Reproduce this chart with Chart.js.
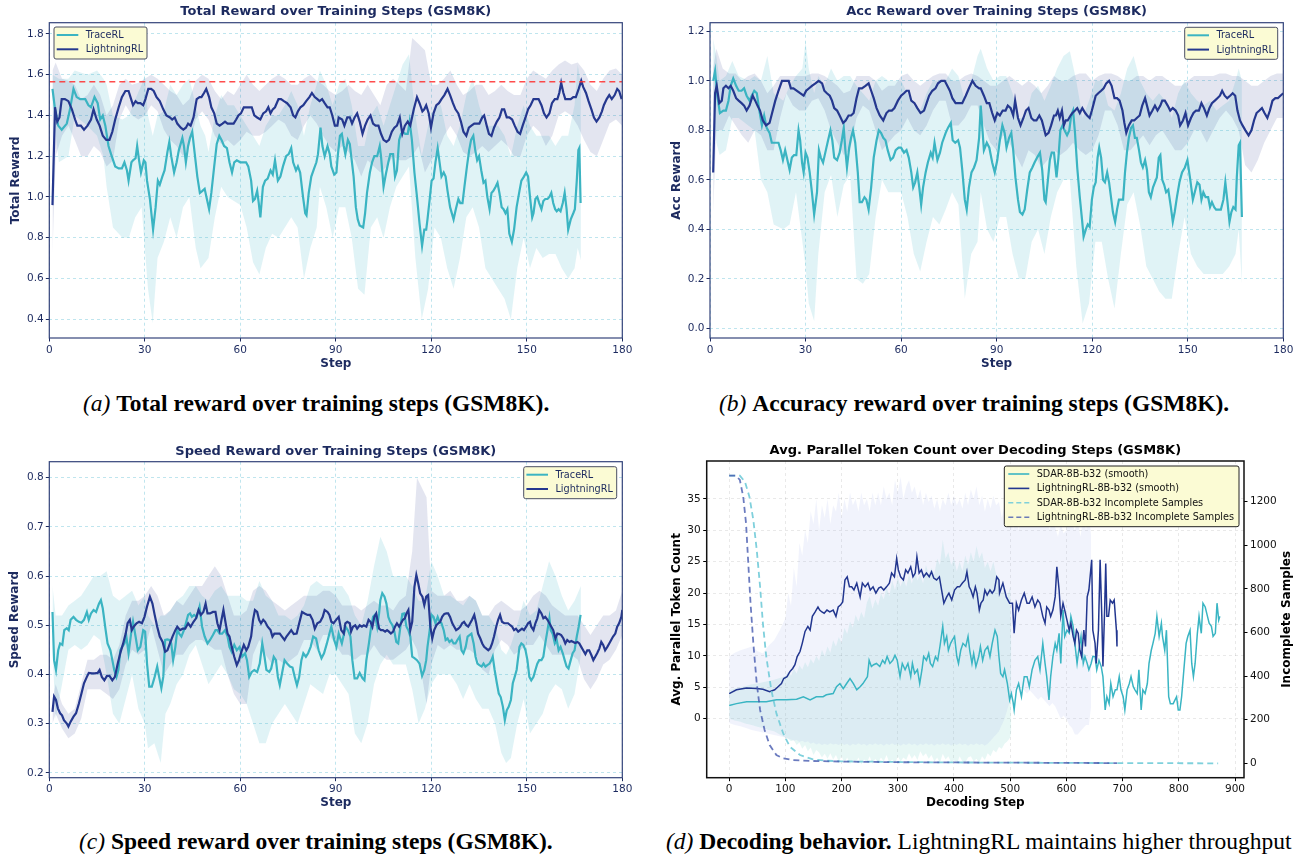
<!DOCTYPE html>
<html><head><meta charset="utf-8">
<script src="https://cdn.jsdelivr.net/npm/chart.js@4.4.1/dist/chart.umd.min.js"></script>
<style>
html,body{margin:0;padding:0;background:#fff;width:1302px;height:858px;overflow:hidden;position:relative;}
canvas{position:absolute;}
.cap{position:absolute;font-family:'Liberation Serif','Times New Roman',serif;font-size:23.5px;line-height:23.5px;color:#000;white-space:nowrap;}
.cap i{font-weight:normal;}
</style></head><body>
<canvas id="ca" width="640" height="374" style="left:0;top:0"></canvas>
<canvas id="cb" width="642" height="374" style="left:660px;top:0"></canvas>
<canvas id="cc" width="640" height="374" style="left:0;top:440px"></canvas>
<canvas id="cd" width="652" height="374" style="left:650px;top:440px"></canvas>
<div class="cap" style="left:83px;top:392px"><i>(a)</i> <b>Total reward over training steps (GSM8K).</b></div>
<div class="cap" style="left:719px;top:392px"><i>(b)</i> <b>Accuracy reward over training steps (GSM8K).</b></div>
<div class="cap" style="left:79px;top:830px"><i>(c)</i> <b>Speed reward over training steps (GSM8K).</b></div>
<div class="cap" style="left:666px;top:830px"><i>(d)</i> <b>Decoding behavior.</b> LightningRL maintains higher throughput</div>
<script>
// ---------------- DATA ----------------
const seriesNames = ['TraceRL', 'LightningRL'];
const decodeNames = ['SDAR-8B-b32 (smooth)', 'LightningRL-8B-b32 (smooth)', 'SDAR-8B-b32 Incomplete Samples', 'LightningRL-8B-b32 Incomplete Samples'];
const stepTicks = [0, 30, 60, 90, 120, 150, 180];
const totalTicks = [0.4, 0.6, 0.8, 1.0, 1.2, 1.4, 1.6, 1.8];
const accTicks = [0.0, 0.2, 0.4, 0.6, 0.8, 1.0, 1.2];
const speedTicks = [0.2, 0.3, 0.4, 0.5, 0.6, 0.7, 0.8];
const decodeTicks = [0, 100, 200, 300, 400, 500, 600, 700, 800, 900];
const tokenTicks = [0, 5, 10, 15, 20, 25, 30, 35];
const incompleteTicks = [0, 200, 400, 600, 800, 1000, 1200];
const totalReference = 1.565;

// [step, value]
const traceTotal = [[1,1.53],[1.8,1.43],[2.8,1.35],[3.9,1.33],[5.5,1.36],[6.5,1.43],[7.6,1.53],[8.6,1.49],[9.7,1.48],[11.3,1.48],[12.3,1.45],[13.1,1.44],[14.2,1.49],[15.2,1.46],[16,1.38],[16.8,1.4],[17.6,1.35],[18.6,1.25],[19.4,1.21],[20.7,1.15],[21.8,1.14],[22.8,1.14],[23.6,1.17],[24.4,1.13],[24.9,1.08],[25.8,1.17],[26.3,1.18],[27.1,1.19],[27.6,1.25],[28.2,1.18],[28.8,1.12],[29.7,1.18],[30.2,1.17],[30.7,1.08],[31.6,0.99],[32.6,0.84],[33.4,0.95],[34.1,1.08],[34.7,1.06],[35.5,1.1],[36.2,1.13],[37.1,1.22],[37.7,1.27],[38.3,1.2],[39.2,1.12],[40,1.17],[40.7,1.23],[41.8,1.29],[42.3,1.25],[42.9,1.17],[43.6,1.25],[44.2,1.29],[44.9,1.32],[45.7,1.21],[46.5,1.1],[47.3,1.02],[48.1,1.03],[48.8,1.04],[49.5,0.99],[50.2,0.94],[50.9,1.02],[51.8,1.15],[52.6,1.26],[53.4,1.3],[54.1,1.28],[54.9,1.25],[55.8,1.24],[56.6,1.17],[57.4,1.12],[58.1,1.17],[58.9,1.18],[60,1.17],[60.8,1.17],[61.8,1.17],[62.5,1.15],[63.4,1.08],[64,0.98],[64.6,0.99],[65.3,1.03],[65.8,0.97],[66.3,0.9],[67.1,1.05],[67.8,1.08],[68.6,1.09],[69.5,1.13],[70.2,1.11],[70.9,1.18],[71.8,1.08],[72.6,1.1],[73.4,1.15],[74.4,1.2],[75.2,1.21],[76,1.24],[76.6,1.17],[77.5,1.13],[78.1,1.15],[78.8,1.12],[79.7,1],[80.4,0.92],[80.8,0.91],[81.5,1.02],[82.3,1.1],[83.2,1.14],[83.9,1.17],[84.4,1.21],[85.2,1.34],[85.8,1.25],[86.5,1.2],[87.4,1.25],[88.1,1.21],[88.6,1.15],[89.5,1.11],[90.2,1.12],[90.6,1.2],[91.3,1.3],[91.9,1.31],[92.5,1.25],[93,1.21],[93.8,1.28],[94.4,1.26],[95,1.18],[95.6,1.1],[96.3,0.95],[96.9,0.89],[97.5,0.86],[98.6,0.85],[99.2,0.92],[99.8,1.02],[100.7,1.12],[101.4,1.17],[102.1,1.2],[103,1.2],[103.8,1.25],[104.2,1.2],[105,1.05],[105.7,1.11],[106.5,1.17],[107.1,1.21],[108,1.21],[108.6,1.1],[109.2,1.13],[109.9,1.28],[110.5,1.31],[111.1,1.32],[111.8,1.31],[112.6,1.31],[113.2,1.37],[113.9,1.28],[114.7,1.12],[115.5,1],[116.3,0.87],[117.1,0.76],[117.8,0.84],[118.4,0.84],[118.8,0.89],[119.5,0.99],[120.1,1.08],[120.7,1.09],[121.3,1.17],[122,1.24],[122.6,1.17],[123.2,1.1],[123.9,1.12],[124.5,1.1],[125.1,1.03],[125.9,0.95],[127,0.89],[127.7,0.94],[128.5,0.99],[129.1,0.97],[129.8,0.97],[130.4,1.05],[131.2,1.15],[131.9,1.23],[132.5,1.28],[133.2,1.3],[133.8,1.23],[134.4,1.18],[135,1.2],[135.7,1.13],[136.4,1.07],[137,1.08],[137.6,1],[138.3,0.94],[138.9,1.02],[139.5,1.03],[140.2,1.05],[140.8,1.07],[141.4,1.02],[142.1,0.95],[142.7,0.94],[143.3,0.92],[143.9,0.94],[144.5,0.82],[145.3,0.78],[146,0.84],[146.8,0.95],[147.7,1.03],[148.3,1.08],[149.1,1.1],[149.8,1.12],[150.4,1.1],[151,1],[151.7,0.9],[152.1,0.92],[152.7,0.99],[153.3,1],[153.9,0.97],[154.6,0.94],[155.2,0.98],[155.8,0.99],[156.5,0.99],[157.1,1],[157.7,1.02],[158.3,0.97],[158.9,0.94],[159.4,0.93],[160,0.94],[160.6,0.93],[161.3,0.97],[161.9,1.02],[162.5,0.94],[163,0.84],[163.8,0.89],[164.6,0.92],[165.1,0.94],[165.7,1.08],[166.2,1.23],[166.5,1.24],[166.9,0.97]];
const lightTotal = [[1,0.96],[1.8,1.44],[2.5,1.37],[3.2,1.39],[3.9,1.48],[4.9,1.48],[6,1.47],[7.1,1.43],[8.1,1.38],[8.8,1.35],[9.9,1.35],[10.9,1.33],[12,1.35],[13.1,1.38],[13.9,1.43],[14.9,1.38],[15.8,1.35],[16.8,1.3],[17.9,1.28],[18.9,1.28],[19.8,1.32],[20.7,1.38],[21.8,1.44],[22.8,1.49],[23.9,1.52],[24.9,1.52],[25.7,1.48],[26.3,1.45],[27.1,1.47],[27.8,1.46],[28.6,1.46],[29.5,1.45],[30.2,1.48],[31.1,1.53],[32,1.53],[32.8,1.52],[33.7,1.49],[34.7,1.47],[35.8,1.43],[36.8,1.4],[37.9,1.39],[38.6,1.38],[39.4,1.39],[40.2,1.36],[41.3,1.34],[42.1,1.33],[42.9,1.34],[43.6,1.36],[44.4,1.35],[45.3,1.39],[46.3,1.48],[47.2,1.49],[47.8,1.49],[48.6,1.51],[49.3,1.53],[50.2,1.49],[50.9,1.44],[51.8,1.41],[52.6,1.36],[53.5,1.35],[54.4,1.36],[55.2,1.37],[56,1.36],[57.1,1.36],[57.9,1.36],[58.7,1.38],[59.4,1.4],[60.2,1.41],[61.1,1.44],[61.9,1.44],[62.8,1.44],[63.6,1.44],[64.4,1.4],[65.3,1.39],[66.3,1.38],[67.2,1.41],[68.1,1.42],[68.8,1.44],[69.5,1.41],[70.2,1.43],[70.9,1.44],[72,1.48],[72.8,1.48],[73.7,1.47],[74.7,1.46],[75.8,1.44],[76.6,1.4],[77.3,1.39],[78.1,1.42],[78.9,1.44],[79.8,1.45],[80.7,1.47],[81.7,1.49],[82.5,1.51],[83.4,1.49],[84.2,1.48],[84.9,1.47],[85.7,1.48],[86.5,1.46],[87.4,1.44],[88.1,1.44],[88.9,1.4],[89.7,1.35],[90.5,1.35],[90.9,1.39],[92,1.38],[92.7,1.35],[93.6,1.39],[94.4,1.39],[95.1,1.36],[95.9,1.39],[96.7,1.41],[97.5,1.37],[98.4,1.31],[99.2,1.35],[100,1.38],[100.9,1.4],[101.7,1.36],[102.5,1.35],[103.4,1.35],[104.2,1.31],[105,1.28],[105.9,1.27],[106.7,1.28],[107.6,1.32],[108.4,1.34],[109.2,1.35],[110.1,1.39],[110.9,1.31],[111.7,1.35],[112.6,1.37],[113.4,1.35],[114.5,1.43],[115.5,1.49],[116.3,1.46],[117.2,1.42],[117.8,1.43],[118.4,1.45],[119.2,1.41],[119.9,1.34],[120.7,1.41],[121.6,1.45],[122.4,1.46],[123.2,1.48],[124.1,1.5],[125.1,1.53],[125.9,1.5],[126.8,1.46],[127.6,1.43],[128.5,1.41],[129.3,1.37],[130.1,1.32],[131,1.3],[131.8,1.34],[132.6,1.35],[133.5,1.36],[134.3,1.36],[135.1,1.36],[136,1.39],[136.6,1.4],[137.4,1.35],[138.1,1.31],[138.9,1.3],[139.7,1.34],[140.6,1.37],[141.4,1.39],[142.2,1.43],[142.9,1.43],[143.7,1.39],[144.5,1.39],[145.4,1.38],[146.2,1.35],[147.1,1.32],[147.9,1.31],[148.7,1.35],[149.6,1.39],[150.4,1.43],[151.2,1.45],[152.1,1.48],[152.9,1.48],[153.7,1.48],[154.6,1.45],[155.4,1.41],[156.2,1.39],[157.1,1.41],[157.9,1.46],[158.8,1.48],[159.6,1.48],[160.2,1.51],[160.8,1.56],[161.5,1.51],[162.1,1.48],[162.9,1.48],[163.8,1.48],[164.6,1.49],[165.4,1.49],[166.3,1.53],[167.1,1.57],[167.7,1.54],[168.6,1.51],[169.4,1.47],[170.3,1.43],[171.1,1.39],[171.9,1.37],[172.8,1.39],[173.6,1.42],[174.2,1.45],[175.1,1.48],[175.9,1.5],[176.7,1.48],[177.6,1.5],[178.4,1.53],[179,1.52],[179.8,1.48]];
// [step, upper, lower]
const traceTotalBand = [[1,1.6,1.45],[3,1.58,1.17],[6,1.58,1.2],[8,1.62,1.4],[12,1.6,1.35],[15,1.62,1.3],[17,1.58,1.2],[18,1.55,1.05],[20,1.4,0.85],[23,1.38,0.8],[25,1.4,0.8],[27,1.48,0.9],[29,1.55,0.95],[30,1.6,0.75],[31,1.4,0.55],[32.5,1.3,0.38],[34,1.4,0.7],[36,1.42,0.78],[38,1.55,0.9],[40,1.5,0.8],[42,1.55,0.95],[44,1.58,1.0],[46,1.45,0.75],[47.5,1.35,0.65],[49,1.3,0.68],[50,1.22,0.7],[52,1.4,0.9],[54,1.5,1.05],[56,1.45,1.0],[58,1.45,0.98],[60,1.4,0.96],[62,1.35,0.85],[64,1.3,0.68],[66,1.25,0.62],[68,1.35,0.75],[70,1.4,0.82],[72,1.4,0.8],[74,1.45,0.85],[76,1.52,0.9],[78,1.45,0.85],[80,1.3,0.6],[82,1.45,0.75],[84,1.55,0.85],[85,1.62,1.05],[87,1.55,0.95],[89,1.45,0.8],[91,1.55,0.95],[93,1.58,0.95],[95,1.45,0.8],[97,1.25,0.55],[99,1.25,0.52],[101,1.4,0.85],[103,1.45,0.9],[105,1.35,0.8],[107,1.45,0.95],[109,1.55,1.05],[111,1.65,1.1],[113,1.7,1.15],[115,1.4,0.7],[117,1.2,0.4],[119,1.35,0.55],[121,1.45,0.85],[123,1.45,0.8],[125,1.3,0.65],[127,1.25,0.55],[129,1.35,0.7],[131,1.5,0.9],[133,1.58,0.95],[135,1.45,0.85],[137,1.35,0.65],[139,1.35,0.6],[141,1.35,0.55],[143,1.3,0.5],[145,1.2,0.4],[147,1.35,0.65],[149,1.45,0.8],[151,1.35,0.65],[153,1.3,0.75],[155,1.3,0.7],[157,1.3,0.72],[159,1.25,0.72],[161,1.3,0.65],[163,1.3,0.6],[165,1.45,0.65],[166,1.65,0.75],[167,1.55,0.69]];
const lightTotalBand = [[1,1.62,0.72],[2,1.66,1.2],[4,1.58,1.3],[6,1.57,1.35],[8,1.55,1.28],[10,1.48,1.2],[12,1.5,1.2],[14,1.55,1.25],[16,1.5,1.22],[18,1.4,1.15],[20,1.45,1.18],[22,1.55,1.38],[24,1.58,1.45],[26,1.55,1.4],[28,1.56,1.38],[30,1.58,1.4],[32,1.6,1.45],[34,1.58,1.42],[36,1.55,1.33],[38,1.52,1.28],[40,1.5,1.25],[42,1.45,1.2],[44,1.48,1.25],[46,1.57,1.38],[48,1.6,1.42],[50,1.58,1.38],[52,1.52,1.3],[54,1.48,1.26],[56,1.52,1.28],[58,1.5,1.25],[60,1.55,1.28],[62,1.6,1.32],[64,1.55,1.3],[66,1.52,1.3],[68,1.55,1.32],[70,1.58,1.35],[72,1.6,1.38],[74,1.58,1.36],[76,1.55,1.3],[78,1.55,1.28],[80,1.58,1.35],[82,1.6,1.4],[84,1.57,1.36],[86,1.55,1.3],[88,1.52,1.25],[90,1.5,1.22],[92,1.52,1.25],[94,1.55,1.22],[96,1.52,1.18],[98,1.5,1.1],[100,1.55,1.18],[102,1.5,1.15],[104,1.45,1.12],[106,1.55,1.15],[108,1.58,1.2],[110,1.55,1.18],[112,1.52,1.18],[114,1.78,1.2],[116,1.75,1.25],[118,1.72,1.12],[120,1.55,1.18],[122,1.55,1.22],[124,1.58,1.3],[126,1.62,1.35],[128,1.55,1.3],[130,1.5,1.22],[132,1.52,1.2],[134,1.55,1.22],[136,1.55,1.25],[138,1.5,1.22],[140,1.52,1.25],[142,1.55,1.28],[144,1.52,1.25],[146,1.5,1.2],[148,1.5,1.2],[150,1.58,1.3],[152,1.62,1.35],[154,1.6,1.32],[156,1.58,1.25],[158,1.62,1.3],[160,1.65,1.4],[162,1.67,1.42],[164,1.65,1.4],[166,1.66,1.35],[168,1.62,1.28],[170,1.55,1.22],[172,1.52,1.2],[174,1.58,1.28],[176,1.62,1.36],[178,1.63,1.38],[180,1.6,1.35]];

const traceAcc = [[1,1.0],[1.6,1.04],[2.3,0.94],[3.1,0.87],[4.2,0.88],[5,0.88],[5.8,0.92],[6.5,0.98],[7.3,1.01],[8.2,0.98],[9,0.96],[9.9,0.96],[10.7,0.97],[11.5,0.94],[12.4,0.92],[13.1,0.94],[13.9,0.96],[14.7,0.95],[15.5,0.88],[16.3,0.82],[17,0.86],[17.8,0.81],[18.7,0.79],[19.4,0.75],[20.5,0.75],[21.5,0.75],[22.2,0.72],[22.9,0.68],[23.6,0.72],[24.3,0.68],[25,0.64],[25.7,0.69],[26.4,0.7],[27.1,0.7],[27.8,0.8],[28.3,0.76],[28.9,0.67],[29.4,0.63],[30,0.71],[30.6,0.69],[31.3,0.63],[32,0.55],[32.7,0.46],[33.6,0.55],[34.2,0.72],[34.8,0.69],[35.5,0.67],[36.2,0.71],[36.9,0.75],[37.8,0.8],[38.4,0.76],[39,0.69],[39.9,0.68],[40.7,0.71],[41.4,0.76],[42,0.81],[42.5,0.72],[43,0.65],[43.7,0.73],[44.3,0.77],[44.9,0.8],[45.6,0.75],[46.4,0.63],[47,0.51],[47.7,0.51],[48.5,0.53],[49.1,0.52],[49.8,0.48],[50.6,0.57],[51.4,0.69],[52.3,0.76],[53,0.8],[53.7,0.79],[54.4,0.77],[55.1,0.76],[55.8,0.72],[56.7,0.68],[57.5,0.69],[58.3,0.72],[59.2,0.73],[60,0.73],[60.9,0.71],[61.7,0.72],[62.4,0.69],[63.2,0.63],[63.8,0.57],[64.4,0.59],[65.1,0.63],[65.7,0.57],[66.3,0.5],[66.9,0.57],[67.7,0.63],[68.4,0.67],[69.3,0.71],[69.9,0.69],[70.5,0.75],[71.4,0.68],[72.2,0.71],[72.9,0.75],[74,0.79],[74.7,0.81],[75.6,0.83],[76.2,0.76],[77,0.75],[77.9,0.76],[78.5,0.73],[79.2,0.64],[80,0.52],[80.6,0.48],[81.3,0.57],[82.1,0.63],[82.9,0.65],[83.7,0.68],[84.5,0.77],[85,0.9],[86,0.72],[86.9,0.75],[87.7,0.73],[88.6,0.67],[89.4,0.63],[90.2,0.68],[91,0.76],[91.8,0.82],[92.5,0.79],[93.1,0.73],[93.9,0.77],[94.6,0.79],[95.2,0.72],[95.9,0.61],[96.7,0.52],[97.3,0.47],[98.1,0.46],[98.8,0.48],[99.6,0.56],[100.4,0.63],[101.2,0.65],[101.9,0.67],[102.7,0.69],[103.6,0.71],[104.3,0.64],[105,0.52],[105.4,0.51],[106.1,0.6],[106.7,0.68],[107.3,0.71],[108,0.71],[108.8,0.61],[109.4,0.69],[110,0.8],[110.7,0.82],[111.3,0.8],[112.1,0.78],[112.8,0.8],[113.4,0.86],[114,0.88],[114.6,0.79],[115.3,0.65],[116.1,0.53],[116.8,0.44],[117.3,0.37],[118,0.4],[118.6,0.42],[119.2,0.41],[119.9,0.52],[120.5,0.57],[121.1,0.59],[121.7,0.69],[122.2,0.73],[122.8,0.69],[123.4,0.6],[124,0.59],[124.7,0.63],[125.3,0.59],[125.9,0.53],[126.5,0.47],[127.2,0.43],[127.8,0.48],[128.4,0.52],[129,0.52],[129.7,0.52],[130.3,0.63],[130.9,0.71],[131.5,0.77],[132.2,0.81],[132.8,0.82],[133.4,0.77],[134,0.77],[134.7,0.72],[135.3,0.67],[135.9,0.65],[136.6,0.68],[137.2,0.64],[137.8,0.55],[138.4,0.53],[139.1,0.57],[139.7,0.59],[140.3,0.61],[140.9,0.69],[141.4,0.7],[142,0.6],[142.6,0.58],[143.2,0.55],[143.9,0.56],[144.7,0.49],[145.3,0.43],[145.9,0.47],[146.6,0.53],[147.4,0.59],[148.2,0.63],[149.1,0.65],[149.9,0.68],[150.8,0.6],[151.6,0.52],[152.2,0.55],[153,0.59],[153.7,0.58],[154.3,0.52],[154.9,0.55],[155.6,0.53],[156.4,0.53],[157,0.49],[157.6,0.51],[158.3,0.49],[158.9,0.48],[159.7,0.48],[160.4,0.48],[161.2,0.52],[161.8,0.59],[162.4,0.52],[163.1,0.43],[163.7,0.47],[164.3,0.49],[165,0.48],[165.4,0.61],[166,0.74],[166.4,0.75],[167,0.45]];
const lightAcc = [[1,0.63],[1.6,0.95],[2.1,0.98],[2.9,0.91],[3.7,0.92],[4.2,0.97],[5,0.98],[5.8,0.97],[6.5,0.98],[7.3,0.96],[8.2,0.93],[9,0.92],[9.9,0.91],[10.7,0.9],[11.5,0.88],[12.4,0.9],[13.4,0.94],[14.2,0.92],[14.9,0.9],[15.7,0.88],[16.6,0.84],[17.6,0.82],[18.7,0.83],[19.5,0.87],[20.5,0.92],[21.5,0.96],[22.6,1.0],[23.6,1.0],[24.7,1.0],[25.4,0.97],[26.2,0.97],[27.3,0.96],[28.3,0.95],[29.4,0.94],[30.2,0.96],[31.1,0.97],[32,0.98],[33.1,0.99],[34.1,1.0],[35.2,0.99],[35.9,0.96],[36.7,0.95],[37.6,0.94],[38.3,0.92],[39,0.89],[39.9,0.88],[40.7,0.86],[41.8,0.83],[42.6,0.84],[43.5,0.86],[44.3,0.86],[45.1,0.87],[46,0.93],[46.8,0.97],[47.7,0.97],[48.8,0.98],[49.8,0.99],[50.6,0.96],[51.4,0.93],[52.3,0.89],[53.3,0.86],[54.4,0.84],[55.4,0.87],[56.2,0.88],[57.1,0.88],[57.9,0.89],[59,0.92],[60,0.94],[60.9,0.95],[61.7,0.96],[62.4,0.96],[63.2,0.92],[64.2,0.91],[65.1,0.89],[66.1,0.87],[67.2,0.88],[68,0.91],[68.8,0.94],[69.8,0.96],[70.8,0.97],[71.6,0.99],[72.6,1.0],[73.7,1.0],[74.5,0.98],[75.3,0.96],[76.1,0.93],[77.1,0.91],[78.2,0.91],[79.2,0.91],[80.3,0.94],[81.3,0.97],[82.4,1.0],[83.4,0.98],[84.5,0.97],[85,0.97],[86,0.94],[86.9,0.91],[87.7,0.91],[88.6,0.87],[89.4,0.84],[90.2,0.87],[91,0.86],[91.9,0.88],[92.8,0.88],[93.5,0.9],[94.4,0.89],[95.2,0.86],[95.8,0.92],[96.7,0.85],[97.5,0.82],[98.4,0.85],[99.2,0.88],[100,0.89],[100.9,0.85],[101.7,0.84],[102.5,0.84],[103.4,0.86],[104.2,0.84],[104.8,0.81],[105.4,0.78],[106.3,0.79],[107.1,0.82],[108,0.86],[108.6,0.86],[109.2,0.88],[109.8,0.85],[110.5,0.88],[111.1,0.82],[111.7,0.84],[112.3,0.84],[113.2,0.86],[113.8,0.87],[114.6,0.88],[115.3,0.89],[116.1,0.87],[116.9,0.89],[117.8,0.87],[118.4,0.86],[119.2,0.85],[119.9,0.88],[120.5,0.91],[121.1,0.94],[121.9,0.95],[122.8,0.96],[123.6,0.97],[124.4,0.99],[125.3,1.0],[126.1,0.98],[127,0.93],[127.8,0.93],[128.6,0.92],[129.5,0.88],[130.1,0.83],[130.7,0.79],[131.5,0.82],[132.4,0.84],[133.2,0.84],[134,0.85],[134.9,0.86],[135.7,0.9],[136.6,0.93],[137.2,0.9],[138,0.86],[138.9,0.88],[139.7,0.9],[140.5,0.88],[141.4,0.9],[142,0.92],[142.8,0.92],[143.7,0.9],[144.5,0.88],[145.3,0.89],[146.2,0.88],[147,0.86],[147.6,0.82],[148.5,0.84],[149.3,0.87],[150.1,0.82],[151,0.85],[151.8,0.87],[152.6,0.88],[153.5,0.88],[154.3,0.91],[155.1,0.89],[156,0.86],[156.8,0.89],[157.6,0.91],[158.5,0.92],[159.3,0.93],[160.1,0.94],[160.8,0.96],[161.6,0.94],[162.4,0.93],[163.3,0.94],[164.1,0.95],[164.9,0.94],[165.6,0.88],[166.4,0.84],[167.2,0.82],[168.1,0.8],[169.1,0.78],[170,0.8],[170.8,0.84],[171.6,0.87],[172.5,0.88],[173.3,0.89],[174.1,0.87],[175,0.85],[175.8,0.88],[176.6,0.92],[177.5,0.93],[178.3,0.93],[179.1,0.94],[180,0.95]];
const traceAccBand = [[1,1.17,0.9],[2,1.1,0.75],[3,1.0,0.7],[5,1.02,0.72],[7,1.08,0.85],[9,1.02,0.85],[12,1.0,0.82],[14,1.02,0.8],[16,1.0,0.6],[18,1.1,0.55],[20,0.95,0.42],[23,0.92,0.4],[25,0.98,0.42],[27,1.02,0.55],[29,1.05,0.35],[30,1.16,0.25],[31,1.05,0.1],[32.7,0.95,0.03],[34,1.02,0.3],[36,0.98,0.55],[38,1.05,0.62],[40,1.0,0.45],[42,1.02,0.58],[44,1.02,0.62],[46,0.98,0.2],[48,0.95,0.18],[50,0.92,0.22],[52,1.0,0.45],[54,1.02,0.6],[56,1.0,0.55],[58,1.0,0.55],[60,1.0,0.55],[62,0.95,0.45],[64,0.9,0.3],[66,0.88,0.23],[68,0.95,0.35],[70,1.0,0.45],[72,1.0,0.42],[74,1.0,0.48],[76,1.05,0.55],[78,1.02,0.5],[80,0.92,0.12],[82,1.0,0.3],[84,1.1,0.35],[85,1.13,0.55],[87,1.05,0.4],[89,1.0,0.35],[91,1.02,0.45],[93,1.02,0.45],[95,0.95,0.3],[97,0.85,0.2],[99,0.85,0.2],[101,0.95,0.35],[103,0.98,0.4],[105,0.92,0.3],[107,0.98,0.45],[109,1.05,0.55],[111,1.1,0.6],[113,1.12,0.6],[115,1.0,0.25],[117,0.85,0.02],[119,0.92,0.1],[121,1.0,0.35],[123,1.0,0.35],[125,0.9,0.2],[127,0.88,0.08],[129,0.95,0.3],[131,1.05,0.5],[133,1.1,0.55],[135,1.0,0.42],[137,0.95,0.25],[139,0.92,0.2],[141,0.95,0.15],[143,0.92,0.12],[145,0.85,0.12],[147,0.95,0.3],[149,1.0,0.45],[151,0.95,0.3],[153,0.92,0.25],[155,0.9,0.22],[157,0.92,0.22],[159,0.88,0.22],[161,0.9,0.22],[163,0.92,0.25],[165,1.0,0.3],[166,1.05,0.4],[167,1.0,0.18]];
const lightAccBand = [[1,1.05,0.47],[2,1.13,0.8],[4,1.05,0.8],[6,1.03,0.86],[8,1.03,0.82],[10,1.0,0.78],[12,1.02,0.75],[14,1.03,0.8],[16,1.0,0.78],[18,0.95,0.72],[20,0.98,0.72],[22,1.02,0.85],[24,1.02,0.95],[26,1.02,0.9],[28,1.02,0.88],[30,1.02,0.88],[32,1.03,0.92],[34,1.03,0.93],[36,1.02,0.88],[38,1.0,0.8],[40,0.98,0.75],[42,0.95,0.7],[44,0.96,0.72],[46,1.02,0.85],[48,1.02,0.9],[50,1.02,0.88],[52,1.0,0.8],[54,0.96,0.72],[56,0.98,0.75],[58,0.98,0.78],[60,1.02,0.8],[62,1.03,0.85],[64,1.0,0.8],[66,0.98,0.78],[68,1.0,0.82],[70,1.02,0.88],[72,1.03,0.92],[74,1.03,0.92],[76,1.0,0.82],[78,1.0,0.82],[80,1.02,0.85],[82,1.03,0.9],[84,1.02,0.9],[86,1.0,0.82],[88,0.98,0.75],[90,0.98,0.72],[92,1.0,0.78],[94,1.02,0.75],[96,1.0,0.7],[98,0.98,0.65],[100,1.0,0.72],[102,0.98,0.7],[104,0.95,0.65],[106,0.98,0.68],[108,1.02,0.72],[110,1.0,0.7],[112,1.0,0.72],[114,1.02,0.75],[116,1.03,0.72],[118,1.03,0.7],[120,1.0,0.72],[122,1.02,0.78],[124,1.03,0.88],[126,1.03,0.88],[128,1.02,0.82],[130,1.0,0.72],[132,1.0,0.72],[134,1.02,0.75],[136,1.02,0.78],[138,1.0,0.74],[140,1.02,0.78],[142,1.02,0.8],[144,1.0,0.76],[146,0.98,0.72],[148,0.98,0.72],[150,1.0,0.75],[152,1.02,0.8],[154,1.02,0.8],[156,1.02,0.75],[158,1.02,0.8],[160,1.03,0.85],[162,1.03,0.88],[164,1.02,0.85],[166,1.02,0.8],[168,1.0,0.66],[170,0.98,0.63],[172,0.98,0.68],[174,1.0,0.75],[176,1.02,0.8],[178,1.03,0.85],[180,1.03,0.85]];

const traceSpeed = [[1,0.527],[1.5,0.429],[2.1,0.409],[2.8,0.449],[3.4,0.463],[4.1,0.46],[4.7,0.49],[5.5,0.494],[6.1,0.49],[6.7,0.511],[7.6,0.517],[8.4,0.511],[9.3,0.507],[10.1,0.505],[10.9,0.511],[11.8,0.527],[12.4,0.511],[13.1,0.524],[13.9,0.531],[14.7,0.527],[15.6,0.544],[16.2,0.551],[16.8,0.534],[17.7,0.49],[18.3,0.463],[19.2,0.449],[19.8,0.429],[20.4,0.409],[21.1,0.395],[21.7,0.409],[22.3,0.449],[22.9,0.456],[23.6,0.463],[24.2,0.477],[24.9,0.443],[25.7,0.483],[26.3,0.507],[27.1,0.477],[27.8,0.449],[28.6,0.456],[29.5,0.49],[30.1,0.487],[30.7,0.422],[31.4,0.375],[32.2,0.375],[33.1,0.395],[33.9,0.416],[34.5,0.395],[35.2,0.372],[35.8,0.395],[36.4,0.47],[37.1,0.471],[37.7,0.47],[38.3,0.463],[38.9,0.429],[39.6,0.456],[40.2,0.49],[40.8,0.483],[41.5,0.477],[42.3,0.49],[42.9,0.504],[43.6,0.521],[44.2,0.524],[44.8,0.517],[45.5,0.521],[46.3,0.517],[47.2,0.538],[48,0.497],[48.8,0.477],[49.7,0.463],[50.5,0.47],[51.4,0.48],[52.2,0.49],[52.8,0.49],[53.5,0.483],[54.3,0.483],[55.2,0.49],[56,0.477],[56.6,0.456],[57.3,0.446],[58.1,0.46],[58.9,0.449],[59.8,0.456],[60.6,0.436],[61.5,0.443],[62.1,0.429],[62.8,0.395],[63.6,0.405],[64.4,0.409],[65.3,0.405],[66.1,0.422],[66.9,0.463],[67.6,0.436],[68.2,0.409],[69.1,0.405],[69.7,0.412],[70.5,0.436],[71.2,0.429],[71.8,0.395],[72.4,0.378],[73.1,0.402],[73.9,0.429],[74.7,0.422],[75.6,0.416],[76.4,0.414],[77.1,0.395],[77.8,0.378],[78.5,0.395],[79.2,0.429],[79.8,0.443],[80.6,0.436],[81.3,0.443],[82.1,0.456],[82.9,0.477],[83.8,0.473],[84.6,0.449],[85.5,0.433],[86.3,0.443],[87.2,0.463],[88,0.483],[88.6,0.497],[89.5,0.47],[90.2,0.456],[90.9,0.483],[91.9,0.463],[92.5,0.48],[93.1,0.497],[93.8,0.49],[94.6,0.477],[95.2,0.429],[95.9,0.392],[96.7,0.392],[97.5,0.403],[98.4,0.392],[99,0.388],[99.6,0.429],[100.4,0.463],[101.1,0.497],[101.7,0.517],[102.3,0.521],[103,0.497],[103.6,0.524],[104,0.551],[104.6,0.565],[105.3,0.558],[105.9,0.544],[106.5,0.517],[107.1,0.507],[107.8,0.5],[108.4,0.487],[109,0.466],[109.6,0.463],[110.3,0.497],[110.9,0.523],[111.5,0.524],[112.2,0.497],[112.8,0.49],[113.4,0.477],[114,0.436],[114.7,0.433],[115.5,0.429],[116.3,0.422],[117.1,0.397],[117.8,0.409],[118.4,0.429],[118.8,0.456],[119.5,0.49],[120.1,0.521],[120.7,0.517],[121.3,0.504],[122,0.517],[122.6,0.507],[123.2,0.504],[123.9,0.49],[124.5,0.47],[125.1,0.473],[125.7,0.466],[126.4,0.47],[127,0.463],[127.6,0.463],[128.2,0.47],[128.9,0.477],[129.5,0.449],[130.1,0.443],[130.8,0.456],[131.4,0.477],[132,0.48],[132.6,0.483],[133.3,0.463],[133.9,0.436],[134.5,0.422],[135.1,0.419],[135.8,0.416],[136.4,0.422],[137,0.416],[137.6,0.419],[138.3,0.422],[138.9,0.429],[139.3,0.436],[139.9,0.409],[140.6,0.382],[141.2,0.361],[141.8,0.354],[142.5,0.334],[143.1,0.307],[143.7,0.327],[144.3,0.334],[145,0.348],[145.6,0.382],[146.2,0.395],[146.8,0.409],[147.7,0.456],[148.3,0.463],[148.9,0.46],[149.6,0.449],[150.2,0.429],[150.8,0.395],[151.4,0.388],[152.1,0.395],[152.7,0.409],[153.3,0.422],[153.9,0.429],[154.6,0.429],[155.2,0.436],[155.8,0.463],[156.5,0.49],[157.1,0.514],[157.5,0.49],[158.1,0.483],[158.8,0.463],[159.4,0.47],[160,0.449],[160.6,0.456],[161.3,0.443],[161.9,0.429],[162.5,0.416],[163.1,0.412],[163.8,0.429],[164.4,0.443],[165,0.449],[165.7,0.477],[166.3,0.497],[166.9,0.521]];
const lightSpeed = [[1,0.324],[1.5,0.355],[2.1,0.348],[2.7,0.331],[3.4,0.321],[4,0.317],[4.6,0.307],[5.5,0.3],[6,0.294],[6.7,0.304],[7.6,0.314],[8.4,0.321],[9.3,0.341],[10.1,0.361],[10.9,0.382],[11.8,0.395],[12.4,0.403],[13.4,0.402],[14.3,0.402],[15.2,0.403],[15.8,0.409],[16.5,0.395],[17.3,0.388],[18.1,0.397],[18.9,0.397],[19.8,0.388],[20.6,0.395],[21.5,0.422],[22.3,0.443],[23.2,0.463],[24,0.483],[24.6,0.504],[25.3,0.511],[25.9,0.49],[26.5,0.497],[27.4,0.504],[28.2,0.507],[29.1,0.504],[29.9,0.517],[30.7,0.538],[31.6,0.558],[32.4,0.544],[33.1,0.521],[33.9,0.497],[34.7,0.477],[35.6,0.466],[36.4,0.446],[37.1,0.449],[37.9,0.463],[38.7,0.477],[39.6,0.49],[40.2,0.497],[41.1,0.49],[41.9,0.493],[42.7,0.493],[43.6,0.504],[44.4,0.497],[45.3,0.507],[46.1,0.514],[46.9,0.531],[47.6,0.521],[48.4,0.527],[49.1,0.544],[49.7,0.524],[50.5,0.524],[51.4,0.527],[52.2,0.527],[52.8,0.504],[53.5,0.49],[54.1,0.511],[54.7,0.531],[55.4,0.504],[56,0.483],[56.6,0.477],[57.3,0.456],[58.1,0.436],[58.9,0.419],[59.6,0.429],[60.2,0.443],[61.1,0.46],[61.9,0.449],[62.5,0.456],[63.4,0.477],[64,0.511],[64.6,0.531],[65.3,0.527],[65.9,0.511],[66.5,0.504],[67.2,0.511],[67.8,0.507],[68.6,0.497],[69.5,0.49],[70.1,0.477],[70.7,0.483],[71.6,0.483],[72.4,0.483],[73.1,0.477],[73.9,0.47],[74.5,0.477],[75.2,0.483],[76,0.49],[76.8,0.482],[77.7,0.483],[78.5,0.504],[79.4,0.527],[80.2,0.524],[81.1,0.521],[81.9,0.521],[82.7,0.511],[83.4,0.493],[84.2,0.504],[85.1,0.507],[85.9,0.517],[86.5,0.531],[87.4,0.527],[88,0.521],[88.6,0.507],[89.3,0.504],[90.1,0.511],[90.9,0.517],[91.7,0.49],[92.5,0.483],[93,0.504],[93.6,0.507],[94.4,0.504],[94.8,0.487],[95.4,0.497],[96.1,0.5],[96.7,0.493],[97.5,0.5],[98.2,0.497],[98.8,0.5],[99.6,0.497],[100.3,0.511],[100.9,0.507],[101.5,0.497],[102.1,0.517],[102.7,0.524],[103.6,0.493],[104.2,0.49],[104.8,0.49],[105.5,0.487],[106.1,0.49],[106.7,0.487],[107.3,0.483],[108,0.487],[108.6,0.497],[109.2,0.504],[109.9,0.497],[110.5,0.504],[111.1,0.511],[111.7,0.514],[112.2,0.524],[112.8,0.531],[113.4,0.49],[114,0.507],[114.7,0.578],[115.3,0.602],[115.9,0.585],[116.5,0.565],[117.2,0.558],[117.8,0.541],[118.4,0.558],[119,0.561],[119.7,0.497],[120.3,0.473],[120.9,0.49],[121.6,0.5],[122.2,0.504],[122.8,0.507],[123.4,0.517],[124.1,0.523],[124.7,0.524],[125.3,0.524],[125.9,0.517],[126.6,0.504],[127.2,0.497],[127.8,0.49],[128.5,0.493],[129.1,0.497],[129.7,0.504],[130.3,0.507],[131,0.5],[131.6,0.497],[132.2,0.504],[132.8,0.511],[133.5,0.521],[134.1,0.504],[134.7,0.483],[135.4,0.473],[136,0.463],[136.6,0.456],[137.2,0.453],[137.9,0.449],[138.5,0.453],[139.1,0.463],[139.7,0.477],[140.4,0.497],[141,0.511],[141.6,0.521],[142.2,0.507],[142.9,0.504],[143.5,0.504],[144.1,0.504],[144.8,0.5],[145.4,0.497],[146,0.49],[146.6,0.493],[147.3,0.487],[147.9,0.49],[148.5,0.493],[149.1,0.49],[149.8,0.497],[150.4,0.504],[151,0.507],[151.4,0.497],[152.1,0.49],[152.7,0.504],[153.3,0.514],[153.9,0.531],[154.6,0.524],[155.2,0.514],[155.8,0.517],[156.5,0.511],[157.1,0.504],[157.7,0.497],[158.3,0.49],[159,0.473],[159.6,0.483],[160.2,0.482],[160.8,0.48],[161.5,0.473],[162.1,0.463],[162.7,0.47],[163.4,0.466],[164,0.468],[164.6,0.466],[165.2,0.464],[165.9,0.466],[166.5,0.463],[167.1,0.456],[167.7,0.449],[168.4,0.441],[169,0.449],[169.6,0.449],[170.3,0.439],[170.9,0.429],[171.5,0.436],[172.1,0.443],[172.8,0.453],[173.4,0.466],[174,0.46],[174.6,0.449],[175.3,0.456],[175.9,0.463],[176.5,0.47],[177.1,0.477],[177.8,0.483],[178.4,0.497],[179,0.504],[179.7,0.517],[180,0.531]];
const traceSpeedBand = [[1,0.58,0.45],[2,0.52,0.31],[4,0.52,0.38],[6,0.54,0.45],[8,0.55,0.46],[10,0.56,0.45],[12,0.58,0.46],[14,0.6,0.48],[16,0.6,0.47],[18,0.61,0.4],[20,0.56,0.32],[22,0.55,0.3],[24,0.56,0.35],[26,0.57,0.4],[28,0.54,0.33],[30,0.56,0.3],[31,0.52,0.25],[33,0.5,0.26],[35,0.52,0.22],[36.5,0.52,0.32],[38,0.53,0.34],[40,0.55,0.38],[42,0.56,0.4],[44,0.58,0.44],[46,0.58,0.46],[48,0.56,0.42],[50,0.55,0.38],[52,0.57,0.4],[54,0.58,0.42],[56,0.56,0.4],[58,0.56,0.37],[60,0.56,0.36],[62,0.55,0.34],[64,0.55,0.3],[66,0.59,0.26],[68,0.56,0.26],[70,0.55,0.3],[72,0.52,0.32],[74,0.52,0.34],[76,0.51,0.32],[78,0.52,0.3],[80,0.54,0.34],[82,0.58,0.38],[84,0.59,0.37],[86,0.58,0.36],[88,0.58,0.4],[90,0.58,0.4],[92,0.58,0.38],[94,0.56,0.36],[96,0.52,0.28],[98,0.5,0.26],[100,0.55,0.3],[102,0.62,0.38],[104,0.68,0.42],[106,0.65,0.44],[108,0.6,0.42],[110,0.6,0.42],[112,0.6,0.42],[114,0.58,0.37],[116,0.55,0.3],[118,0.55,0.33],[120,0.63,0.38],[122,0.6,0.4],[124,0.56,0.4],[126,0.56,0.4],[128,0.55,0.38],[130,0.54,0.35],[132,0.56,0.38],[134,0.55,0.35],[136,0.52,0.33],[138,0.52,0.33],[140,0.5,0.3],[142,0.45,0.24],[143.5,0.44,0.22],[145,0.46,0.23],[147,0.5,0.3],[149,0.55,0.35],[151,0.52,0.28],[153,0.53,0.3],[155,0.58,0.32],[157,0.63,0.36],[159,0.6,0.38],[161,0.56,0.37],[163,0.53,0.33],[165,0.55,0.36],[167,0.58,0.44]];
const lightSpeedBand = [[1,0.35,0.3],[2,0.38,0.32],[4,0.34,0.29],[6,0.32,0.27],[8,0.33,0.28],[10,0.38,0.31],[12,0.43,0.37],[14,0.43,0.37],[16,0.44,0.37],[18,0.44,0.36],[20,0.43,0.35],[22,0.46,0.37],[24,0.52,0.42],[26,0.55,0.45],[28,0.55,0.44],[30,0.56,0.45],[32,0.58,0.5],[34,0.56,0.45],[36,0.52,0.4],[38,0.53,0.42],[40,0.55,0.44],[42,0.54,0.44],[44,0.56,0.46],[46,0.58,0.47],[48,0.58,0.47],[50,0.6,0.46],[52,0.62,0.45],[54,0.6,0.45],[56,0.56,0.4],[58,0.52,0.36],[60,0.52,0.34],[62,0.53,0.34],[64,0.57,0.44],[66,0.58,0.47],[68,0.57,0.44],[70,0.55,0.42],[72,0.54,0.43],[74,0.53,0.42],[76,0.54,0.43],[78,0.55,0.44],[80,0.56,0.47],[82,0.56,0.47],[84,0.56,0.45],[86,0.57,0.48],[88,0.57,0.48],[90,0.56,0.46],[92,0.54,0.44],[94,0.54,0.44],[96,0.54,0.43],[98,0.53,0.44],[100,0.54,0.44],[102,0.55,0.46],[104,0.54,0.44],[106,0.54,0.43],[108,0.53,0.43],[110,0.55,0.44],[112,0.56,0.45],[114,0.65,0.47],[115.5,0.8,0.45],[117,0.78,0.4],[118.5,0.76,0.34],[120,0.57,0.42],[122,0.56,0.46],[124,0.56,0.45],[126,0.57,0.46],[128,0.55,0.45],[130,0.55,0.45],[132,0.56,0.45],[134,0.55,0.44],[136,0.52,0.41],[138,0.52,0.4],[140,0.54,0.45],[142,0.55,0.47],[144,0.54,0.46],[146,0.53,0.44],[148,0.53,0.45],[150,0.54,0.46],[152,0.56,0.46],[154,0.57,0.48],[156,0.56,0.46],[158,0.54,0.44],[160,0.53,0.44],[162,0.52,0.44],[164,0.52,0.44],[166,0.52,0.43],[168,0.5,0.39],[170,0.48,0.37],[172,0.5,0.39],[174,0.52,0.42],[176,0.52,0.43],[178,0.53,0.45],[180,0.57,0.48]];

// (d) decoding: [step, tokens]
const sdarSmooth = [[0,2.1],[13,2.4],[31,2.7],[49,2.7],[66,2.7],[84,3.0],[102,3.0],[120,3.1],[132,3.5],[144,3.0],[155,3.5],[167,3.5],[173,3.8],[185,4.0],[191,5.1],[197,5.6],[203,4.8],[209,5.6],[215,6.4],[221,5.6],[227,4.6],[233,5.1],[238,5.6],[246,6.7],[249,9.3],[253,8.3],[257,8.6],[262,8.8],[268,8.3],[273,9.3],[277,8.8],[281,9.9],[286,8.8],[291,9.3],[295,10.1],[299,9.3],[304,6.7],[308,8.8],[313,7.8],[318,8.8],[323,6.7],[326,8.8],[330,7.2],[335,7.8],[339,5.6],[343,7.8],[346,9.9],[351,9.3],[355,10.4],[358,8.8],[362,8.3],[367,9.9],[371,9.3],[375,11.5],[380,14.7],[383,12.0],[387,13.1],[390,10.9],[394,12.0],[397,12.5],[401,13.1],[405,9.9],[408,8.8],[412,10.9],[416,12.0],[421,11.5],[425,13.1],[428,10.9],[432,8.8],[435,10.4],[439,8.3],[444,9.9],[447,11.5],[451,9.3],[455,10.9],[460,11.5],[464,9.9],[468,12.0],[473,14.1],[477,13.1],[480,9.9],[483,7.2],[487,6.7],[490,7.8],[495,5.6],[499,3.0],[502,4.0],[505,2.7],[507,1.4],[511,4.6],[515,5.6],[520,3.5],[525,6.7],[530,6.7],[534,5.1],[539,7.8],[544,9.3],[549,9.9],[553,7.8],[558,12.0],[562,8.8],[565,6.7],[569,3.0],[572,6.7],[576,9.9],[580,12.0],[583,10.9],[587,13.6],[590,8.8],[594,17.3],[597,13.1],[601,14.1],[605,13.6],[608,16.3],[612,14.7],[615,12.0],[619,8.8],[622,10.9],[626,13.1],[630,8.8],[633,9.9],[637,8.8],[640,7.8],[644,8.8],[647,9.9],[651,9.9],[654,7.8],[658,9.3],[662,8.3],[665,6.7],[669,1.4],[672,3.5],[676,2.4],[679,5.6],[683,3.5],[687,4.6],[690,4.6],[694,6.7],[697,4.6],[701,3.5],[704,1.4],[708,4.6],[712,5.6],[715,6.7],[719,5.1],[722,4.6],[726,4.0],[729,7.8],[733,1.4],[736,4.6],[740,4.0],[744,5.6],[747,8.8],[751,10.9],[754,12.0],[758,13.6],[761,16.3],[765,13.1],[769,15.2],[771,13.1],[775,10.9],[778,14.1],[782,3.5],[785,2.4],[790,2.4],[796,3.5],[799,1.4],[802,1.4],[805,3.5],[809,7.8],[813,12.0],[816,13.1],[820,14.1],[823,8.8],[826,6.7],[829,8.8],[833,13.6],[836,16.3],[840,13.6],[843,18.4],[847,17.8],[851,16.3],[854,15.2],[858,14.7],[861,13.1],[865,13.6],[868,18.4],[871,15.7],[873,16.3]];
const lightSmooth = [[0,4.0],[13,4.6],[31,4.9],[49,4.8],[60,4.7],[72,4.3],[81,4.6],[87,5.1],[93,5.6],[97,6.4],[103,6.7],[108,7.5],[113,8.0],[117,8.6],[121,9.9],[126,10.7],[130,12.0],[135,13.9],[140,14.7],[144,14.1],[148,16.3],[153,17.0],[158,17.8],[161,17.3],[165,17.0],[169,16.8],[174,17.3],[179,17.0],[185,17.3],[190,16.3],[194,17.8],[198,18.1],[202,18.6],[206,22.1],[210,22.6],[214,21.0],[218,21.0],[222,20.5],[227,21.6],[233,19.4],[237,21.6],[242,21.0],[247,21.6],[251,20.5],[256,21.0],[261,20.0],[266,20.8],[270,21.0],[275,20.5],[280,21.0],[285,21.6],[289,23.2],[294,22.6],[298,25.5],[301,23.7],[305,22.6],[310,22.1],[314,23.7],[318,23.2],[323,24.2],[327,22.6],[331,23.2],[334,25.8],[338,23.2],[342,23.7],[346,22.6],[351,23.2],[356,22.6],[360,23.4],[364,22.4],[369,22.1],[374,22.6],[378,20.5],[382,18.4],[387,19.4],[391,20.0],[396,18.9],[401,20.5],[406,21.0],[410,21.0],[415,21.6],[420,22.1],[423,23.4],[427,21.0],[430,20.5],[434,19.4],[438,21.0],[441,20.0],[445,17.3],[448,18.4],[452,18.9],[455,20.5],[459,19.7],[464,20.5],[468,20.0],[472,20.5],[476,22.6],[480,22.1],[481,20.0],[487,21.6],[493,19.4],[499,18.4],[504,18.4],[507,13.6],[511,18.4],[515,17.3],[520,18.9],[525,20.0],[530,18.4],[534,18.4],[539,19.4],[544,17.8],[549,18.9],[553,18.4],[558,16.3],[562,15.2],[565,17.8],[569,17.3],[572,16.3],[576,17.3],[580,19.4],[583,24.2],[587,20.5],[590,16.3],[594,18.4],[597,17.3],[601,15.7],[605,14.1],[608,15.2],[612,13.1],[615,12.0],[618,14.1],[621,13.6],[624,10.9],[627,9.9],[631,14.1],[634,11.5],[637,19.4],[640,20.5],[645,25.3],[647,14.1],[651,12.0],[653,8.8],[657,14.1],[660,25.3],[663,16.3],[665,8.3],[668,17.3],[670,24.7],[672,16.3],[675,16.3],[678,18.9],[682,18.4],[685,18.9],[689,14.1],[690,11.5]];
// [step, samples]
const sdarIncomplete = [[0,1320],[19,1320],[28,1292],[36,1223],[43,1116],[49,979],[55,810],[60,642],[66,489],[75,336],[84,229],[96,138],[108,76],[126,38],[149,18],[173,12],[200,9],[300,6],[400,4],[500,3],[600,2],[700,1],[870,0]];
const lightIncomplete = [[0,1320],[12,1320],[19,1300],[25,1223],[30,1101],[34,917],[38,734],[43,550],[49,367],[55,245],[63,153],[72,84],[84,38],[96,23],[114,15],[144,11],[200,8],[300,5],[400,4],[500,3],[600,2],[690,1]];
// [step, upper, lower]
const lightSmoothBand = [[0,9.9,-0.7],[10,10.5,-1.0],[20,10.9,-1.2],[30,11.2,-1.5],[40,11.5,-1.8],[50,10.8,-2.0],[60,10.4,-2.2],[70,11.6,-2.4],[80,12.5,-2.6],[90,14.1,-2.8],[100,16,-3.0],[105,20,-3.2],[110,18,-3.3],[115,24,-3.5],[120,21,-3.4],[125,28,-3.7],[130,26,-3.5],[135,30,-3.8],[140,28,-3.6],[145,33,-4],[150,31,-3.8],[155,35,-4.1],[160,30,-3.9],[165,34,-4.2],[170,32,-4],[175,35,-4.2],[180,31,-3.9],[185,34,-4.1],[190,33,-4],[195,36,-4.2],[200,32,-3.9],[205,35,-4.2],[210,33,-4],[215,36,-4.3],[220,34,-4],[225,35,-4.2],[230,33,-3.9],[235,36,-4.2],[240,34,-4],[245,35,-4.3],[250,33,-4],[255,36,-4.2],[260,34,-3.9],[265,36,-4.2],[270,34,-4],[275,37,-4.3],[280,35,-4],[285,36,-4.2],[290,34,-3.9],[295,38,-4.2],[300,36,-4],[305,38.5,-4.3],[310,35,-4],[315,37,-4.2],[320,38,-3.9],[325,36,-4.2],[330,37,-4],[335,35,-4.3],[340,36.5,-4],[345,34,-4.2],[350,36,-3.9],[355,34.5,-4.2],[360,35.5,-4],[365,33.5,-4.3],[370,35,-4],[375,33,-4.2],[380,35,-3.9],[385,34,-4.2],[390,36,-4],[395,34,-4.3],[400,35.5,-4],[405,34,-4.2],[410,35,-3.9],[415,33.5,-4.2],[420,36,-4],[425,34,-4.3],[430,36.5,-4],[435,35,-4.2],[440,37,-3.9],[445,34,-4.2],[450,35.5,-4],[455,33,-4.3],[460,35,-4],[465,33.5,-3.5],[470,35.5,-3],[475,34,-2.5],[480,34.5,-2],[485,32,-1],[490,34,0],[495,31.5,1.5],[500,33,3],[505,30,4],[510,32,5],[515,30,4.5],[520,31.5,5],[525,33,4.5],[530,31,4],[535,34,4.5],[540,32,4],[545,33.5,3.5],[550,31,3],[555,33,3.5],[560,31.5,3],[565,32.5,2.5],[570,30,2],[575,31.5,2.5],[580,30.5,2],[585,29,1],[590,31,0],[595,29.5,0.5],[600,30,0],[605,33,-1],[610,31,-1.5],[615,30,-2.5],[620,31.5,-2.5],[625,29,-2],[630,32,-1.5],[635,30,-1],[640,33,-1],[644,29,2]];
const sdarSmoothBand = [[0,4.5,0.0],[10,4.8,-0.3],[20,5.0,-0.5],[30,5.2,-0.8],[40,5.5,-1.0],[50,5.6,-1.3],[60,5.8,-1.5],[70,6.0,-1.8],[80,6.2,-2.0],[90,6.5,-2.5],[100,6.8,-3.0],[105,7.5,-3.2],[110,6.8,-3.6],[115,8,-3.4],[120,7.2,-4.2],[125,8.5,-3.8],[130,7.8,-4.8],[135,9,-4.2],[140,8.2,-5.2],[145,9.5,-4.6],[150,8.8,-5.8],[155,10,-5],[160,9.2,-5.4],[165,11,-6.2],[170,10,-5.6],[175,11.5,-6.4],[180,10.5,-5.5],[185,12.5,-6.5],[190,11.5,-5.8],[195,13,-6.8],[200,12,-6],[205,14.5,-7],[210,13.5,-6.2],[215,15.5,-7.2],[220,14.5,-6.5],[225,16.5,-7],[230,15.5,-6.2],[235,17,-7.3],[240,16,-6.5],[245,18.5,-7],[250,19.5,-6],[255,17.5,-7.2],[260,19,-6.4],[265,18,-7],[270,20,-6.2],[275,19,-6.8],[280,21,-5.8],[285,19.5,-7],[290,22,-6.5],[295,20.5,-7.2],[300,22.5,-6],[305,21,-6.8],[310,22.5,-6.2],[315,21,-6.6],[320,23,-5.5],[325,21.5,-6.4],[330,23.5,-5.8],[335,22,-6.6],[340,23,-5.2],[345,21.5,-6],[350,24.5,-5.5],[355,23,-6.4],[360,24,-5.8],[365,23,-6.8],[370,25.5,-6.2],[375,24.5,-7],[380,28.5,-5.6],[385,25.5,-6.5],[390,26.5,-6],[395,24.5,-7],[400,25.5,-6.6],[405,23.5,-7.2],[410,25,-6],[415,23.5,-6.8],[420,26,-7],[425,24.5,-6.2],[430,26.5,-6],[435,25,-6.8],[440,27.5,-6.4],[445,25.5,-7],[450,26.5,-6],[455,24,-6.6],[460,25,-5.5],[465,23.5,-6],[470,25,-5],[475,23,-5.4],[480,22.5,-4.5],[485,20,-4.8],[490,21,-4],[495,19.5,-3.6],[500,21,-3],[502,12,-2]];

// ---------------- STYLE / HELPERS ----------------
const FONT = '"DejaVu Sans", sans-serif';
const NAVY = '#1c2a5f';
const TEAL = '#3bb4c2';
const BLUE = '#25388f';
const GRID = 'rgba(110,195,215,0.55)';
Chart.defaults.font.family = FONT;

function pts(a) { return a.map(p => ({x: p[0], y: p[1]})); }
function col(a, i) { return a.map(p => ({x: p[0], y: p[i]})); }
function lineDs(data, color, width, extra) {
  return Object.assign({data: data, borderColor: color, borderWidth: width, pointRadius: 0, fill: false, tension: 0}, extra || {});
}
function bandDs(a, color, extra) {
  return [
    Object.assign({data: col(a, 1), borderColor: 'rgba(0,0,0,0)', borderWidth: 0, pointRadius: 0, fill: '+1', backgroundColor: color}, extra || {}),
    Object.assign({data: col(a, 2), borderColor: 'rgba(0,0,0,0)', borderWidth: 0, pointRadius: 0, fill: false}, extra || {})
  ];
}

const framePlugin = {
  id: 'frame',
  afterDatasetsDraw(chart, args, o) {
    const {ctx, chartArea: a} = chart;
    ctx.save();
    ctx.strokeStyle = o.color; ctx.lineWidth = o.width;
    ctx.strokeRect(a.left, a.top, a.right - a.left, a.bottom - a.top);
    ctx.restore();
  }
};
const boxLegend = {
  id: 'boxLegend',
  afterDraw(chart, args, o) {
    if (!o || !o.items) return;
    const {ctx, chartArea: a} = chart;
    const x = o.align === 'left' ? a.left + o.inset : a.right - o.inset - o.width;
    const y = a.top + o.insetTop;
    ctx.save();
    ctx.beginPath();
    if (ctx.roundRect) ctx.roundRect(x, y, o.width, o.height, 2); else ctx.rect(x, y, o.width, o.height);
    ctx.fillStyle = o.bg; ctx.fill();
    ctx.strokeStyle = o.border; ctx.lineWidth = 1; ctx.stroke();
    ctx.font = o.font;
    o.items.forEach((it, i) => {
      const yy = y + o.firstRow + i * o.rowGap;
      ctx.strokeStyle = it.color; ctx.lineWidth = it.width;
      ctx.setLineDash(it.dash || []);
      ctx.beginPath(); ctx.moveTo(x + o.lineX0, yy); ctx.lineTo(x + o.lineX1, yy); ctx.stroke();
      ctx.setLineDash([]);
      ctx.fillStyle = o.textColor; ctx.textBaseline = 'middle'; ctx.textAlign = 'left';
      ctx.fillText(it.text, x + o.textX, yy + 0.5);
    });
    ctx.restore();
  }
};
const sideTitle = {
  id: 'sideTitle',
  afterDraw(chart, args, o) {
    if (!o || !o.text) return;
    const {ctx, chartArea: a} = chart;
    ctx.save();
    ctx.font = o.font; ctx.fillStyle = o.color; ctx.textAlign = 'center'; ctx.textBaseline = 'middle';
    ctx.translate(o.x, (a.top + a.bottom) / 2);
    ctx.rotate(-Math.PI / 2);
    ctx.fillText(o.text, 0, 0);
    ctx.restore();
  }
};

function rewardChart(id, o) {
  const ds = [];
  if (o.ref !== undefined) {
    ds.push(lineDs([{x: stepTicks[0], y: o.ref}, {x: stepTicks[stepTicks.length - 1], y: o.ref}], 'rgba(255,45,45,0.85)', 1.5, {borderDash: [6, 4]}));
  }
  ds.push(lineDs(pts(o.light), BLUE, 2.2));
  ds.push(lineDs(pts(o.trace), TEAL, 2.2));
  ds.push(...bandDs(o.lightBand, 'rgba(40,52,140,0.13)'));
  ds.push(...bandDs(o.traceBand, 'rgba(70,185,200,0.17)'));
  const tickFont = {family: FONT, size: 10.5};
  const gridOpts = {color: GRID, lineWidth: 0.8, tickColor: NAVY, tickLength: 3.5, tickWidth: 1, borderDash: [3, 3]};
  return new Chart(document.getElementById(id), {
    type: 'line',
    data: {datasets: ds},
    options: {
      responsive: false, animation: false, events: [],
      layout: {padding: {left: 0, top: 0, right: o.padRight, bottom: 0}},
      plugins: {
        legend: {display: false}, tooltip: {enabled: false},
        title: {display: true, fullSize: false, text: o.title, color: NAVY, font: {family: FONT, size: 13, weight: 'bold'}, padding: {top: o.titleTop, bottom: o.titleBottom}},
        frame: {color: '#34437a', width: 1.2},
        boxLegend: {
          align: o.legendAlign, inset: o.legendInset, insetTop: o.legendTop, width: 93, height: 32,
          firstRow: 8, rowGap: 14.3, lineX0: 2.7, lineX1: 24.3, textX: 31.7,
          bg: '#fbfbd4', border: '#4b4f63', font: '9.7px ' + FONT, textColor: NAVY,
          items: [{text: seriesNames[0], color: TEAL, width: 2}, {text: seriesNames[1], color: BLUE, width: 2}]
        }
      },
      scales: {
        x: {
          type: 'linear', min: stepTicks[0], max: stepTicks[stepTicks.length - 1],
          afterBuildTicks: s => { s.ticks = stepTicks.map(v => ({value: v})); },
          afterFit: s => { s.height = o.xH; s.paddingLeft = 0; s.paddingRight = 0; },
          ticks: {color: NAVY, font: tickFont, padding: 2, autoSkip: false, maxRotation: 0, callback: v => String(v)},
          grid: gridOpts, border: {display: false, dash: [3, 3]},
          title: {display: true, text: 'Step', color: NAVY, font: {family: FONT, size: 12, weight: 'bold'}, padding: {top: 0, bottom: o.xTitleBottom}}
        },
        y: {
          type: 'linear', min: o.yMin, max: o.yMax,
          afterBuildTicks: s => { s.ticks = o.yTicks.map(v => ({value: v})); },
          afterFit: s => { s.width = o.yW; s.paddingTop = 0; s.paddingBottom = 0; },
          ticks: {color: NAVY, font: tickFont, padding: 2, autoSkip: false, callback: v => Number(v).toFixed(1)},
          grid: gridOpts, border: {display: false, dash: [3, 3]},
          title: {display: true, text: o.yLabel, color: NAVY, font: {family: FONT, size: 12, weight: 'bold'}, padding: {top: o.yTitleTop, bottom: 0}}
        }
      }
    },
    plugins: [framePlugin, boxLegend]
  });
}

rewardChart('ca', {
  title: 'Total Reward over Training Steps (GSM8K)', yLabel: 'Total Reward',
  trace: traceTotal, light: lightTotal, traceBand: traceTotalBand, lightBand: lightTotalBand, ref: totalReference,
  yMin: 0.308, yMax: 1.855, yTicks: totalTicks, yW: 49.3, yTitleTop: 8.5,
  padRight: 17.7, titleTop: 4, titleBottom: 3.1, xH: 36, xTitleBottom: 2.8,
  legendAlign: 'left', legendInset: 4.7, legendTop: 4.3
});
rewardChart('cb', {
  title: 'Acc Reward over Training Steps (GSM8K)', yLabel: 'Acc Reward',
  trace: traceAcc, light: lightAcc, traceBand: traceAccBand, lightBand: lightAccBand,
  yMin: -0.039, yMax: 1.235, yTicks: accTicks, yW: 50, yTitleTop: 9.5,
  padRight: 18.7, titleTop: 4, titleBottom: 3.1, xH: 36, xTitleBottom: 2.8,
  legendAlign: 'right', legendInset: 5.6, legendTop: 4.6
});
rewardChart('cc', {
  title: 'Speed Reward over Training Steps (GSM8K)', yLabel: 'Speed Reward',
  trace: traceSpeed, light: lightSpeed, traceBand: traceSpeedBand, lightBand: lightSpeedBand,
  yMin: 0.19, yMax: 0.8325, yTicks: speedTicks, yW: 49.3, yTitleTop: 8.1,
  padRight: 17.7, titleTop: 4, titleBottom: 2.1, xH: 36.3, xTitleBottom: 3.8,
  legendAlign: 'right', legendInset: 5.6, legendTop: 5
});

// (d)
(function () {
  const tickFont = {family: FONT, size: 10.5};
  const gridOpts = {color: 'rgba(0,0,0,0.11)', lineWidth: 0.8, tickColor: '#000', tickLength: 3.5, tickWidth: 1, borderDash: [3, 3]};
  const ds = [
    lineDs(pts(lightIncomplete), 'rgba(70,90,175,0.8)', 1.8, {yAxisID: 'y2', borderDash: [6, 4]}),
    lineDs(pts(sdarIncomplete), 'rgba(120,205,218,0.95)', 1.8, {yAxisID: 'y2', borderDash: [6, 4]}),
    lineDs(pts(lightSmooth), '#22368f', 1.5, {yAxisID: 'y'}),
    lineDs(pts(sdarSmooth), '#3ab5c3', 1.5, {yAxisID: 'y'}),
    ...bandDs(lightSmoothBand, 'rgba(130,145,232,0.11)', {yAxisID: 'y'}),
    ...bandDs(sdarSmoothBand, 'rgba(95,200,185,0.15)', {yAxisID: 'y'})
  ];
  new Chart(document.getElementById('cd'), {
    type: 'line',
    data: {datasets: ds},
    options: {
      responsive: false, animation: false, events: [],
      layout: {padding: {left: 0, top: 0, right: 0, bottom: 0}},
      plugins: {
        legend: {display: false}, tooltip: {enabled: false},
        title: {display: true, fullSize: false, text: 'Avg. Parallel Token Count over Decoding Steps (GSM8K)', color: '#000', font: {family: FONT, size: 13, weight: 'bold'}, padding: {top: 3.2, bottom: 2.2}},
        frame: {color: '#111', width: 1.5},
        sideTitle: {text: 'Incomplete Samples', x: 636.7, font: 'bold 12px ' + FONT, color: '#000'},
        boxLegend: {
          align: 'right', inset: 5, insetTop: 5, width: 234.7, height: 60.7,
          firstRow: 8, rowGap: 14.4, lineX0: 4, lineX1: 25, textX: 32.4,
          bg: '#fbfbd4', border: '#222', font: '9.7px ' + FONT, textColor: '#111',
          items: [
            {text: decodeNames[0], color: '#3ab5c3', width: 1.6},
            {text: decodeNames[1], color: '#22368f', width: 1.6},
            {text: decodeNames[2], color: 'rgba(120,205,218,0.95)', width: 1.6, dash: [5, 3]},
            {text: decodeNames[3], color: 'rgba(70,90,175,0.8)', width: 1.6, dash: [5, 3]}
          ]
        }
      },
      scales: {
        x: {
          type: 'linear', min: -40, max: 916,
          afterBuildTicks: s => { s.ticks = decodeTicks.map(v => ({value: v})); },
          afterFit: s => { s.height = 36.3; s.paddingLeft = 0; s.paddingRight = 0; },
          ticks: {color: '#111', font: tickFont, padding: 2, autoSkip: false, maxRotation: 0, callback: v => String(v)},
          grid: gridOpts, border: {display: false, dash: [3, 3]},
          title: {display: true, text: 'Decoding Step', color: '#000', font: {family: FONT, size: 12, weight: 'bold'}, padding: {top: 0, bottom: 3.5}}
        },
        y: {
          type: 'linear', position: 'left', min: -9.4, max: 41.05,
          afterBuildTicks: s => { s.ticks = tokenTicks.map(v => ({value: v})); },
          afterFit: s => { s.width = 56.7; s.paddingTop = 0; s.paddingBottom = 0; },
          ticks: {color: '#111', font: tickFont, padding: 2.5, autoSkip: false, callback: v => String(v)},
          grid: gridOpts, border: {display: false, dash: [3, 3]},
          title: {display: true, text: 'Avg. Parallel Token Count', color: '#000', font: {family: FONT, size: 12, weight: 'bold'}, padding: {top: 19.5, bottom: 0}}
        },
        y2: {
          type: 'linear', position: 'right', min: -66, max: 1387,
          afterBuildTicks: s => { s.ticks = incompleteTicks.map(v => ({value: v})); },
          afterFit: s => { s.width = 58; s.paddingTop = 0; s.paddingBottom = 0; },
          ticks: {color: '#111', font: tickFont, padding: 2.5, autoSkip: false, callback: v => String(v)},
          grid: {drawOnChartArea: false, tickColor: '#000', tickLength: 3.5, tickWidth: 1},
          border: {display: false}
        }
      }
    },
    plugins: [framePlugin, boxLegend, sideTitle]
  });
})();
</script>
</body></html>
